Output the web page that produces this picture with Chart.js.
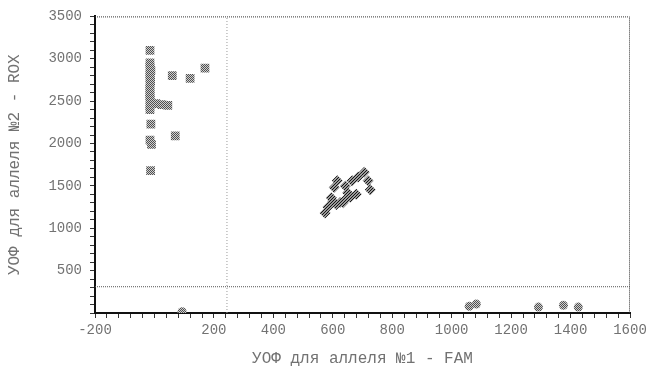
<!DOCTYPE html>
<html>
<head>
<meta charset="utf-8">
<script src="https://cdn.jsdelivr.net/npm/chart.js@4/dist/chart.umd.min.js"></script>
<style>
  html, body { margin: 0; padding: 0; background: #fff; }
  canvas { display: block; }
</style>
</head>
<body>
<canvas id="c" width="653" height="376"></canvas>
<script>
// Allele 2 (ROX) homozygotes: high ROX, low FAM
const allele2X = [-15, -15, -15, -12, -15, -15, -13, -15, -15, -15, -15, -15, -12, -15, 5, 25, 45, -15, -12, -15, -10, 70, -13, 60, 120, 170];
const allele2Y = [3100, 2950, 2900, 2860, 2820, 2780, 2740, 2700, 2650, 2600, 2560, 2520, 2480, 2440, 2470, 2460, 2450, 2400, 2230, 2040, 1990, 2090, 1680, 2800, 2770, 2890];

// Heterozygotes: both signals mid-range
const heteroX = [574, 584, 595, 605, 615, 625, 642, 659, 679, 642, 665, 685, 706, 719, 726, 600, 650, 612, 635];
const heteroY = [1180, 1250, 1360, 1480, 1560, 1305, 1340, 1365, 1400, 1500, 1560, 1605, 1660, 1560, 1455, 1320, 1420, 1280, 1300];

// Allele 1 (FAM) homozygotes and no-template control
const allele1X = [1059, 1083, 1292, 1376, 1426, 93];
const allele1Y = [80, 105, 70, 90, 70, 15];

// Cluster thresholds
const thresholdFAM = 244;
const thresholdROX = 310;

// Axis settings
const xMin = -200, xMax = 1600, xMinorStep = 40, xLabelStep = 200;
const yMin = 0, yMax = 3500, yMinorStep = 100, yLabelStep = 500;

const xTitle = 'УОФ для аллеля №1 - FAM';
const yTitle = 'УОФ для аллеля №2 - ROX';

function zipPoints(xs, ys) {
  return xs.map((x, i) => ({ x: x, y: ys[i] }));
}

// Small pixel patterns used as marker fills
function makePattern(size, painter) {
  const cv = document.createElement('canvas');
  cv.width = size; cv.height = size;
  const g = cv.getContext('2d');
  painter(g);
  return g.createPattern(cv, 'repeat');
}
const checker = makePattern(2, g => {
  g.fillStyle = '#cfcfcf'; g.fillRect(0, 0, 2, 2);
  g.fillStyle = '#505050'; g.fillRect(0, 0, 1, 1); g.fillRect(1, 1, 1, 1);
});
const diagonal = makePattern(3, g => {
  g.fillStyle = '#9a9a9a'; g.fillRect(0, 0, 3, 3);
  g.fillStyle = '#141414';
  g.fillRect(2, 0, 1, 1); g.fillRect(1, 1, 1, 1); g.fillRect(0, 2, 1, 1);
});

// Dotted frame along the top and right of the plot area
const framePlugin = {
  id: 'frame',
  beforeDatasetsDraw(chart) {
    const { ctx, chartArea: a } = chart;
    ctx.save();
    ctx.strokeStyle = '#333';
    ctx.lineWidth = 1;
    ctx.setLineDash([1, 1]);
    ctx.beginPath();
    ctx.moveTo(a.left, a.top + 0.5);
    ctx.lineTo(a.right - 0.5, a.top + 0.5);
    ctx.lineTo(a.right - 0.5, a.bottom);
    ctx.stroke();
    ctx.restore();
  }
};

Chart.defaults.font.family = "'Liberation Mono', 'DejaVu Sans Mono', monospace";
Chart.defaults.color = '#727272';

new Chart(document.getElementById('c'), {
  type: 'scatter',
  data: {
    datasets: [
      {
        type: 'line',
        data: [{ x: thresholdFAM, y: yMin }, { x: thresholdFAM, y: yMax }],
        borderColor: '#9a9a9a', borderWidth: 1, borderDash: [1, 2],
        pointRadius: 0, fill: false
      },
      {
        type: 'line',
        data: [{ x: xMin, y: thresholdROX }, { x: xMax, y: thresholdROX }],
        borderColor: '#555', borderWidth: 1, borderDash: [1, 1],
        pointRadius: 0, fill: false
      },
      {
        data: zipPoints(allele2X, allele2Y),
        pointStyle: 'rect', pointRadius: 6.2,
        backgroundColor: checker, borderWidth: 0
      },
      {
        data: zipPoints(heteroX, heteroY),
        pointStyle: 'rectRot', pointRadius: 5.5,
        backgroundColor: diagonal, borderWidth: 0
      },
      {
        data: zipPoints(allele1X, allele1Y),
        pointStyle: 'circle', pointRadius: 4.5,
        backgroundColor: checker, borderWidth: 0
      }
    ]
  },
  options: {
    responsive: false,
    animation: false,
    events: [],
    layout: { padding: { top: 13, right: 23, left: 0, bottom: 0 } },
    plugins: { legend: { display: false }, tooltip: { enabled: false } },
    scales: {
      x: {
        type: 'linear', min: xMin, max: xMax,
        afterFit(s) { s.height = 63; },
        border: { display: true, color: '#111', width: 2, dash: [2, 1] },
        grid: { drawOnChartArea: false, drawTicks: true, tickLength: 5, color: '#333' },
        ticks: {
          stepSize: xMinorStep, autoSkip: false, maxRotation: 0, padding: 4,
          font: { size: 14 },
          callback: v => (v % xLabelStep === 0 && v !== 0) ? String(v) : ''
        },
        title: { display: true, text: xTitle, font: { size: 16 }, padding: { top: 0, bottom: 8 } }
      },
      y: {
        type: 'linear', min: yMin, max: yMax,
        afterFit(s) { s.width = 95; },
        border: { display: true, color: '#111', width: 2, dash: [2, 1] },
        grid: { drawOnChartArea: false, drawTicks: true, tickLength: 5, color: '#333' },
        ticks: {
          stepSize: yMinorStep, autoSkip: false, padding: 8,
          font: { size: 14 },
          callback: v => (v % yLabelStep === 0 && v !== 0) ? String(v) : ''
        },
        title: { display: true, text: yTitle, font: { size: 16 }, padding: { top: 5, bottom: 0 } }
      }
    }
  },
  plugins: [framePlugin]
});
</script>
</body>
</html>
